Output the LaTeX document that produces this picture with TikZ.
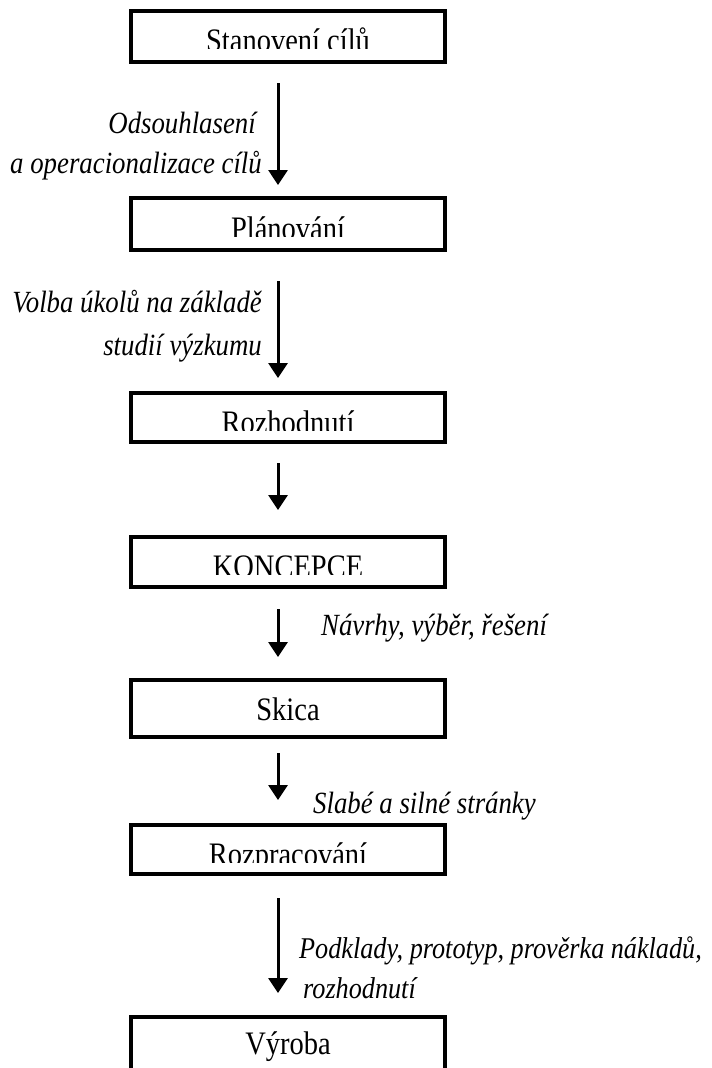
\documentclass[tikz,border=0pt]{standalone}
\usepackage{graphicx}
\usepackage{fontspec}
\setmainfont{Liberation Serif}
\usetikzlibrary{arrows.meta}
\newcommand{\vst}[1]{\scalebox{1}[1.15]{#1}}
\begin{document}
\begin{tikzpicture}[x=1pt,y=1pt,
  stagebox/.style={draw=black,line width=3.6pt,fill=white,inner sep=0pt,minimum width=314pt},
  boxtext/.style={inner sep=0pt,anchor=base,font=\fontsize{28.5}{30}\selectfont},
  lbl/.style={inner sep=0pt,font=\fontsize{26.8}{30}\selectfont\itshape},
  arr/.style={line width=3pt,-{Triangle[width=19pt,length=15pt]}}]
\clip (0,0) rectangle (712,-1068);
\fill[white] (0,0) rectangle (712,-1068);
% boxes
\node[stagebox,minimum height=51pt] (b1) at (288,-36.5) {};
\node[stagebox,minimum height=52pt] (b2) at (288,-224) {};
\node[stagebox,minimum height=49pt] (b3) at (288,-417.5) {};
\node[stagebox,minimum height=50pt] (b4) at (288,-562) {};
\node[stagebox,minimum height=57pt] (b5) at (288,-708.5) {};
\node[stagebox,minimum height=49pt] (b6) at (288,-849.5) {};
\node[stagebox,minimum height=70pt] (b7) at (288,-1052) {};
% box texts (cut at the foot, as in the original)
\begin{scope}\clip (131,-11) rectangle (445,-48.5);
\node[boxtext] (t1) at (288,-51.5) {\vst{Stanovení cílů}};\end{scope}
\begin{scope}\clip (131,-198) rectangle (445,-236.5);
\node[boxtext] (t2) at (288,-239.5) {\vst{Plánování}};\end{scope}
\begin{scope}\clip (131,-393) rectangle (445,-430.5);
\node[boxtext] (t3) at (288,-433.5) {\vst{Rozhodnutí}};\end{scope}
\begin{scope}\clip (131,-537) rectangle (445,-574.5);
\node[boxtext] (t4) at (288,-577.5) {\vst{KONCEPCE}};\end{scope}
\node[boxtext] (t5) at (288,-720.5) {\vst{Skica}};
\begin{scope}\clip (131,-825) rectangle (445,-862.5);
\node[boxtext] (t6) at (288,-865.5) {\vst{Rozpracování}};\end{scope}
\node[boxtext] (t7) at (288,-1054) {\vst{Výroba}};
% arrow end points
\coordinate (a1s) at (278,-83);  \coordinate (a1e) at (278,-185);
\coordinate (a2s) at (278,-281); \coordinate (a2e) at (278,-378);
\coordinate (a3s) at (278,-463); \coordinate (a3e) at (278,-510);
\coordinate (a4s) at (278,-609); \coordinate (a4e) at (278,-657);
\coordinate (a5s) at (278,-753); \coordinate (a5e) at (278,-800);
\coordinate (a6s) at (278,-898); \coordinate (a6e) at (278,-993);
\draw[arr] (a1s) -- (a1e);
\draw[arr] (a2s) -- (a2e);
\draw[arr] (a3s) -- (a3e);
\draw[arr] (a4s) -- (a4e);
\draw[arr] (a5s) -- (a5e);
\draw[arr] (a6s) -- (a6e);
% labels
\node[lbl,anchor=base east] (l1a) at (256,-133) {\vst{Odsouhlasení}};
\node[lbl,anchor=base east] (l1b) at (262,-173) {\vst{a operacionalizace cílů}};
\node[lbl,anchor=base east] (l2a) at (262,-312) {\vst{Volba úkolů na základě}};
\node[lbl,anchor=base east] (l2b) at (262,-355) {\vst{studií výzkumu}};
\node[lbl,anchor=base west] (l4) at (321,-635) {\vst{Návrhy, výběr, řešení}};
\node[lbl,anchor=base west] (l5) at (313,-813) {\vst{Slabé a silné stránky}};
\node[lbl,anchor=base west,font=\fontsize{26.2}{30}\selectfont\itshape] (l6a) at (299,-958) {\vst{Podklady, prototyp, prověrka nákladů,}};
\node[lbl,anchor=base west,font=\fontsize{26.2}{30}\selectfont\itshape] (l6b) at (303,-998) {\vst{rozhodnutí}};
\end{tikzpicture}
\end{document}
